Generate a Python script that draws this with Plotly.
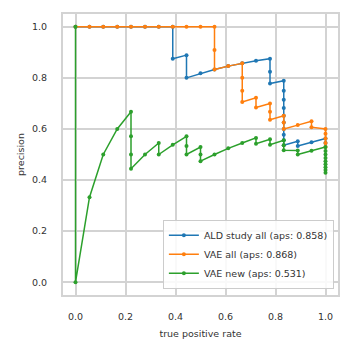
import plotly.graph_objects as go

# ALD study all
ald_recall = [0, 0.056, 0.111, 0.167, 0.222, 0.278, 0.333, 0.389, 0.389, 0.444, 0.444, 0.5,
              0.556, 0.611, 0.667, 0.722, 0.778, 0.778, 0.778, 0.833, 0.833, 0.833, 0.833,
              0.833, 0.833, 0.833, 0.833, 0.833, 0.833, 0.889, 0.889, 0.944, 1.0, 1.0]
ald_precision = [1, 1, 1, 1, 1, 1, 1, 1, 0.875, 0.889, 0.8, 0.818,
                 0.833, 0.846, 0.857, 0.867, 0.875, 0.824, 0.778, 0.789, 0.75, 0.714, 0.682,
                 0.652, 0.625, 0.6, 0.577, 0.556, 0.536, 0.552, 0.533, 0.548, 0.563, 0.545]

# VAE all
vae_all_recall = [0, 0.056, 0.111, 0.167, 0.222, 0.278, 0.333, 0.389, 0.444, 0.5, 0.556,
                  0.556, 0.556, 0.611, 0.667, 0.667, 0.667, 0.667, 0.722, 0.722, 0.778, 0.778,
                  0.778, 0.833, 0.833, 0.833, 0.889, 0.944, 0.944, 1.0, 1.0, 1.0, 1.0, 1.0]
vae_all_precision = [1, 1, 1, 1, 1, 1, 1, 1, 1, 1, 1,
                     0.909, 0.833, 0.846, 0.857, 0.8, 0.75, 0.706, 0.722, 0.684, 0.7, 0.667,
                     0.636, 0.652, 0.625, 0.6, 0.615, 0.63, 0.607, 0.6, 0.581, 0.563, 0.545, 0.529]

# VAE new
vae_new_recall = [0, 0, 0.056, 0.111, 0.167, 0.222, 0.222, 0.222, 0.222, 0.278, 0.333, 0.333,
                  0.389, 0.444, 0.444, 0.444, 0.5, 0.5, 0.5, 0.556, 0.611, 0.667, 0.722, 0.722,
                  0.778, 0.778, 0.833, 0.833, 0.833, 0.889, 0.889, 0.944, 1.0, 1.0, 1.0, 1.0,
                  1.0, 1.0, 1.0, 1.0, 1.0]
vae_new_precision = [1, 0, 0.333, 0.5, 0.6, 0.667, 0.571, 0.5, 0.444, 0.5, 0.545, 0.5,
                     0.538, 0.571, 0.533, 0.5, 0.529, 0.5, 0.474, 0.5, 0.524, 0.545, 0.565, 0.542,
                     0.56, 0.538, 0.556, 0.536, 0.517, 0.516, 0.5, 0.515, 0.529, 0.514, 0.5, 0.486,
                     0.474, 0.462, 0.45, 0.439, 0.429]

series = [
    ("ALD study all (aps: 0.858)", ald_recall, ald_precision, "#1f77b4"),
    ("VAE all (aps: 0.868)", vae_all_recall, vae_all_precision, "#ff7f0e"),
    ("VAE new (aps: 0.531)", vae_new_recall, vae_new_precision, "#2ca02c"),
]

ticks = [0.0, 0.2, 0.4, 0.6, 0.8, 1.0]
tick_labels = ["0.0", "0.2", "0.4", "0.6", "0.8", "1.0"]

fig = go.Figure()
for name, x, y, c in series:
    fig.add_trace(go.Scatter(x=x, y=y, mode="lines+markers", name=name,
                             line=dict(color=c, width=1.5),
                             marker=dict(color=c, size=4)))

grid = "#d3d3d3"
axis_common = dict(showgrid=True, gridcolor=grid, gridwidth=2, zeroline=False,
                   showline=True, linecolor=grid, linewidth=2, mirror=True,
                   ticks="", tickfont=dict(family="DejaVu Sans", size=9.5, color="#333333"),
                   tickvals=ticks, ticktext=tick_labels)

fig.update_xaxes(range=[-0.05, 1.05], ticklabelstandoff=12,
                 title=dict(text="true positive rate", standoff=9,
                            font=dict(family="DejaVu Sans", size=9.5, color="#333333")),
                 **axis_common)
fig.update_yaxes(range=[-0.05, 1.05], ticklabelstandoff=12,
                 title=dict(text="precision", standoff=6,
                            font=dict(family="DejaVu Sans", size=9.5, color="#333333")),
                 **axis_common)

fig.update_layout(
    width=352, height=352,
    margin=dict(l=63, r=14, t=14, b=57),
    paper_bgcolor="white", plot_bgcolor="white",
    font=dict(family="DejaVu Sans", color="#333333"),
    legend=dict(x=0.985, y=0.022, xanchor="right", yanchor="bottom",
                bgcolor="rgba(255,255,255,0.85)", bordercolor="#cccccc", borderwidth=1,
                font=dict(family="DejaVu Sans", size=9.5, color="#333333"),
                tracegroupgap=0, itemwidth=30),
)

fig.write_html("out.html")
